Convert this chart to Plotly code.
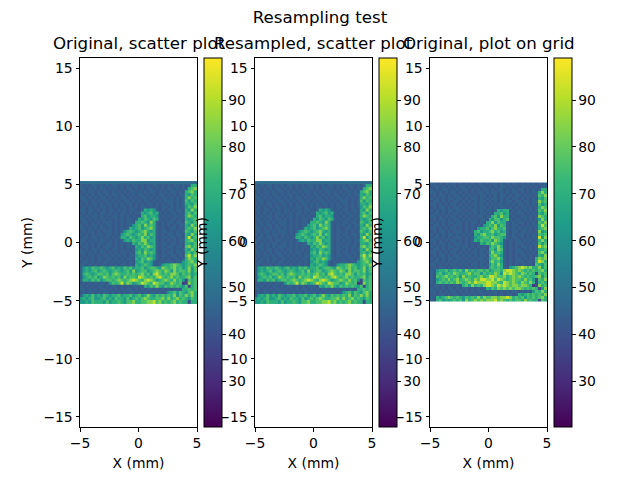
import numpy as np
import plotly.graph_objects as go

FIG_TITLE = "Resampling test"
PANEL_TITLES = ["Original, scatter plot", "Resampled, scatter plot", "Original, plot on grid"]
X_LABEL = "X (mm)"
Y_LABEL = "Y (mm)"
X_TICKS = [-5, 0, 5]
Y_TICKS = [-15, -10, -5, 0, 5, 10, 15]
CB_TICKS = [30, 40, 50, 60, 70, 80, 90]
C_MIN, C_MAX = 20.2, 99.0
LEVELS = [34, 38, 42, 45, 48, 63, 70, 76, 84, 92]

SCATTER_ROWS = """
4444444444 4444444444 4444444444 4444444444
3232332323 2332323233 2323233232 3233232366
3323232332 3232323323 2323323232 3323232678
2323323233 2323232332 3232332323 2332326786
3232323323 2332323232 3323232332 3232336576
3323232332 3232332323 2332323233 2323236867
2332323233 2323233232 3233232323 3323237576
3232332323 3232323323 2323323232 3323236657
2323232332 3232332323 2332323233 2323235768
3323323232 3323232332 2365653232 3323326586
2323232332 3232332323 3656756323 2332326757
3232332323 2332323232 2675665232 3233236876
3323232332 3232323323 6576576323 2332326567
2332323233 3232323326 6765863232 3323327657
3232332323 3232323356 7586763232 3232336586
3323232332 3232323656 7567863232 2332326768
2323323233 3232356765 6786563233 2323237657
3232323323 3232567656 7685763232 3323326586
2332332323 2323665765 6867563233 2332326957
3323232332 3232356576 6885663232 3232336786
3232323323 3232323365 7686563233 2332326657
2332323233 3232323326 5768763232 3323327867
3232332323 2332323235 6576563233 2323236586
3323232332 3232332326 7586763232 3323326757
2323323233 2323232335 6675653233 2332327968
3232323323 3232323326 5768753232 3233236876
2332323233 2323232325 6756532323 3323356786
3323232332 3232332326 5676532356 6787656768
3565766765 6756576756 6756776587 6786756857
3565675676 5676567585 6775678768 7586776857
3676567767 5787667676 7867589767 6887576756
3567675687 6767586776 9876768976 7867667857
3665767567 7678767898 7689875678 7686751767
2323232332 5767968756 7987698775 6876701867
3232323323 2332323233 3265768657 6767657167
3323232332 3232323323 2323323232 3233266767
2323323233 2323232332 3232332323 5675765786
3565756576 5667566756 7568657676 7685768686
5656755675 6576657567 6787667786 8678676576
5565766657 5667657786 6778897867 6786766166
"""

GRID_ROWS = """
3323232332 3232323323 2332323233 2323232323
2332323232 3323232332 3232332323 2332323233
3232332323 2332323233 2323323232 3323232366
3323232332 3232323323 2332323233 2323233686
2323323233 2323232332 3232332323 3232323768
3232323323 3232332323 2332323233 2323232657
2332323233 2323232332 3232323323 3233233867
3323232332 3232332323 2323323232 3323232756
2323323233 2323232332 3232332323 2332323687
3232323323 3232332323 3236566232 3232323768
2332323233 2323232332 3266756323 3323232657
3323232332 3232323323 3675866232 2332323876
2323323233 2323232332 6577567323 3232323586
3232323323 3232332326 6857663232 3323232768
2332323233 3232323256 7685763233 2323233697
3323232332 3232325667 5786673232 3232323678
2323323233 3232367566 7867563233 2332323856
3232323323 2323265786 6756773232 3323232767
2332323233 3232356677 6877653233 2323233958
3323232332 3232365766 7587632323 3232323686
2323323233 3232323657 6876532323 3323233757
3232323323 2332323232 5768632323 2332323978
2332323233 2323232332 6758732323 3232323667
3323232332 3232332323 5867632323 3323232786
2323323233 2323232332 6786532323 2332323658
3232323323 3232323323 5778632323 3232326878
2332323233 2323232332 6867532323 3323326986
3323232332 3232332323 5768632323 2332327657
2323323233 2323232332 6767632567 8987866857
3256675676 7586767767 5677689987 8767676786
3267567687 6678677576 7687598987 6876761767
3276786767 5867667867 9987786787 8767667857
3256768678 6787687998 8979876787 7686751768
3267676768 7678798889 9887698787 6876861676
2332323233 2675867689 9879898788 7887601867
3232323323 2332323236 5768787878 8767676158
3323232332 3232323323 2332323233 2323257686
2323323233 2323232332 3232323323 6567676768
3265678767 6576768687 7887889867 6757676786
3267565676 7586787878 8897876767 7686766176
"""

def decode(text):
    rows = [r.replace(" ", "") for r in text.strip().splitlines()]
    return np.array([[LEVELS[int(ch)] for ch in r] for r in rows], dtype=float)

scatter_z = decode(SCATTER_ROWS)
grid_z = decode(GRID_ROWS)

W, H = 640, 480
FONT = "DejaVu Sans"
PANELS = [(80, 197, 204), (255, 372, 379), (430, 547, 554)]
TOP, BOTTOM = 58, 427
YR = 15.87

def centres(lo, hi, n):
    edges = np.linspace(lo, hi, n + 1)
    return (edges[:-1] + edges[1:]) / 2

def colorbar(x_px):
    return dict(
        x=x_px / W, xanchor="left", xpad=0, ypad=0,
        y=1 - BOTTOM / H, yanchor="bottom", lenmode="fraction", len=(BOTTOM - TOP) / H,
        thicknessmode="pixels", thickness=18,
        outlinecolor="black", outlinewidth=1,
        ticks="outside", ticklen=3.5, tickwidth=1, tickcolor="black",
        tickmode="array", tickvals=CB_TICKS,
        tickfont=dict(family=FONT, size=13.9, color="black"),
    )

fig = go.Figure()
xs = centres(-5, 5, 40)
ys1 = centres(5.25, -5.25, 40)
ys3 = centres(5.16, -5.05, 40)
xx, yy = np.meshgrid(xs, ys1)

for i in range(2):
    fig.add_trace(go.Scatter(
        x=xx.ravel(), y=yy.ravel(), mode="markers",
        marker=dict(symbol="square", size=3.9, line=dict(width=0),
                    color=scatter_z.ravel(), colorscale="Viridis", cmin=C_MIN, cmax=C_MAX,
                    colorbar=colorbar(PANELS[i][2])),
        xaxis=f"x{i+1}" if i else "x", yaxis=f"y{i+1}" if i else "y", showlegend=False,
    ))
fig.add_trace(go.Heatmap(
    x=xs, y=ys3, z=grid_z, colorscale="Viridis", zmin=C_MIN, zmax=C_MAX,
    colorbar=colorbar(PANELS[2][2]), xaxis="x3", yaxis="y3",
))

layout = dict(
    width=W, height=H, margin=dict(l=0, r=0, t=0, b=0, autoexpand=False),
    paper_bgcolor="white", plot_bgcolor="white",
    font=dict(family=FONT, size=13.9, color="black"),
    title=dict(text=FIG_TITLE, x=0.5, xanchor="center", y=1 - 17 / H, yanchor="middle",
               font=dict(family=FONT, size=16.67, color="black")),
    annotations=[],
)
for i, (l, r, _) in enumerate(PANELS):
    s = str(i + 1) if i else ""
    common = dict(showgrid=False, zeroline=False, showline=True, mirror=True, linecolor="black",
                  linewidth=1, ticks="outside", ticklen=3.5, tickwidth=1, tickcolor="black",
                  tickfont=dict(family=FONT, size=13.9, color="black"))
    layout["xaxis" + s] = dict(domain=[l / W, r / W], range=[-5, 5], tickmode="array", tickvals=X_TICKS,
                               anchor="y" + s, title=dict(text=X_LABEL, standoff=8, font=dict(family=FONT, size=13.9)),
                               **common)
    layout["yaxis" + s] = dict(domain=[1 - BOTTOM / H, 1 - TOP / H], range=[-YR, YR], tickmode="array",
                               tickvals=Y_TICKS, anchor="x" + s,
                               title=dict(text=Y_LABEL, standoff=7, font=dict(family=FONT, size=13.9)),
                               **common)
    layout["annotations"].append(dict(
        text=PANEL_TITLES[i], xref="paper", yref="paper", x=(l + r) / 2 / W, y=1 - 43 / H,
        xanchor="center", yanchor="middle", showarrow=False,
        font=dict(family=FONT, size=16.67, color="black"),
    ))
fig.update_layout(**layout)
fig.write_html("out.html", config=dict(displayModeBar=False), post_script="document.body.style.margin='0';")
